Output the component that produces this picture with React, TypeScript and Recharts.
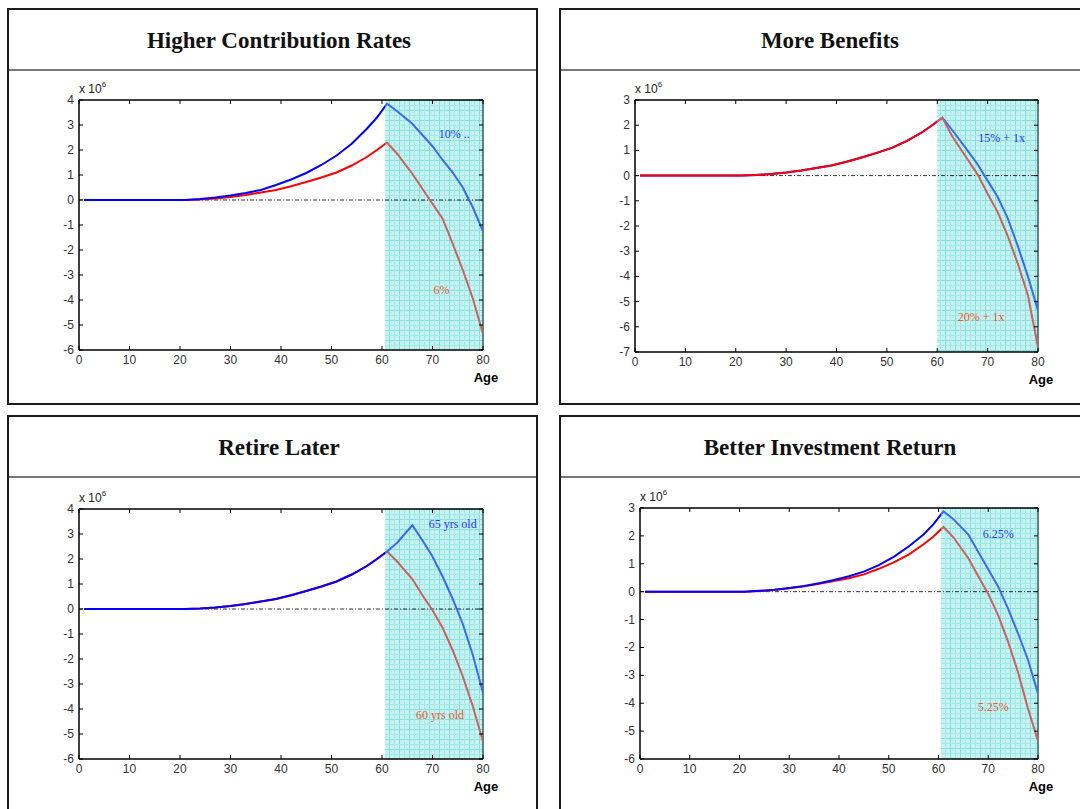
import React from 'react';
import { LineChart, Line, XAxis, YAxis, ReferenceArea, ReferenceLine, ReferenceDot } from 'recharts';

// ages sampled along the curves (years)
const ages = [1, 21, 24, 27, 30, 33, 36, 39, 42, 45, 48, 51, 54, 57, 59, 61, 63, 66, 68, 70, 72, 74, 76, 78, 80];

// fund balance, x 10^6
const contrib6 = [0, 0, 0.02, 0.06, 0.12, 0.2, 0.3, 0.4, 0.55, 0.72, 0.9, 1.1, 1.38, 1.72, 2.0, 2.3, 1.85, 1.05, 0.45, -0.15, -0.75, -1.75, -2.8, -3.95, -5.35];
const contrib10 = [0, 0, 0.04, 0.1, 0.18, 0.28, 0.4, 0.6, 0.82, 1.08, 1.4, 1.78, 2.25, 2.85, 3.3, 3.85, 3.55, 3.05, 2.6, 2.15, 1.6, 1.1, 0.5, -0.3, -1.25];

const benefits15 = [0, 0, 0.02, 0.06, 0.12, 0.2, 0.3, 0.4, 0.55, 0.72, 0.9, 1.1, 1.38, 1.72, 2.0, 2.3, 1.8, 1.0, 0.45, -0.2, -0.85, -1.7, -2.8, -4.0, -5.35];
const benefits20 = [0, 0, 0.02, 0.06, 0.12, 0.2, 0.3, 0.4, 0.55, 0.72, 0.9, 1.1, 1.38, 1.72, 2.0, 2.3, 1.55, 0.65, 0.05, -0.72, -1.45, -2.4, -3.5, -4.75, -6.8];

const retire60 = [0, 0, 0.02, 0.06, 0.12, 0.2, 0.3, 0.4, 0.55, 0.72, 0.9, 1.1, 1.38, 1.72, 2.0, 2.3, 1.9, 1.2, 0.55, -0.05, -0.75, -1.65, -2.7, -3.9, -5.3];
const retire65 = [0, 0, 0.02, 0.06, 0.12, 0.2, 0.3, 0.4, 0.55, 0.72, 0.9, 1.1, 1.38, 1.72, 2.0, 2.3, 2.65, 3.35, 2.75, 2.1, 1.3, 0.4, -0.6, -1.85, -3.35];

const invest525 = [0, 0, 0.02, 0.06, 0.12, 0.19, 0.28, 0.38, 0.48, 0.62, 0.82, 1.05, 1.33, 1.7, 1.98, 2.32, 1.95, 1.2, 0.55, -0.08, -0.85, -1.8, -2.9, -4.2, -5.35];
const invest625 = [0, 0, 0.03, 0.07, 0.13, 0.2, 0.3, 0.42, 0.55, 0.72, 0.95, 1.25, 1.62, 2.05, 2.42, 2.88, 2.6, 2.05, 1.42, 0.8, 0.18, -0.62, -1.5, -2.45, -3.65];

const xTicks = [0, 10, 20, 30, 40, 50, 60, 70, 80];
const yTicks43 = [-6, -5, -4, -3, -2, -1, 0, 1, 2, 3, 4];
const yTicks37 = [-7, -6, -5, -4, -3, -2, -1, 0, 1, 2, 3];
const yTicks63 = [-6, -5, -4, -3, -2, -1, 0, 1, 2, 3];

const RED = '#ff0000';
const RED_FADE = '#c8625e';
const BLUE = '#0000ff';
const BLUE_FADE = '#3a6af2';
const NOTE_BLUE = '#2638ff';
const NOTE_RED = '#f0582a';

const sans = '"Liberation Sans", Arial, sans-serif';
const serif = '"Liberation Serif", "Times New Roman", serif';

type Series = { key: string; values: number[]; color: string; faded: string };
type Note = { x: number; y: number; text: string; color: string };

interface PanelProps {
  id: string;
  title: string;
  box: { left: number; top: number; width: number; height: number };
  titleX: number;
  plot: [number, number, number, number]; // x0, y0, x1, y1 on the page
  yTicks: number[];
  shadeFrom: number;
  series: Series[];
  notes: Note[];
}

const Panel: React.FC<PanelProps> = ({ id, title, box, titleX, plot, yTicks, shadeFrom, series, notes }) => {
  const [x0, y0, x1, y1] = plot;
  const pw = x1 - x0;
  const ph = y1 - y0;
  const padL = 40, padT = 10, padR = 12, padB = 20;
  const left = padL, top = padT, right = padL + pw, bottom = padT + ph;
  const yMin = yTicks[0];
  const yMax = yTicks[yTicks.length - 1];

  const data = ages.map((age, i) => {
    const row: { [k: string]: number } = { age };
    series.forEach(s => { row[s.key] = s.values[i]; });
    return row;
  });

  const XTick = (props: any) => {
    const { x, payload } = props;
    return (
      <g>
        <line x1={x} x2={x} y1={bottom} y2={bottom - 4} stroke="#000" />
        <line x1={x} x2={x} y1={top} y2={top + 4} stroke="#000" />
        <text x={x} y={bottom + 14} textAnchor="middle" fontSize={12} fontFamily={sans} fill="#333">{payload.value}</text>
      </g>
    );
  };

  const YTick = (props: any) => {
    const { y, payload } = props;
    return (
      <g>
        <line x1={left} x2={left + 4} y1={y} y2={y} stroke="#000" />
        <line x1={right} x2={right - 4} y1={y} y2={y} stroke="#000" />
        <text x={left - 5} y={y + 4} textAnchor="end" fontSize={12} fontFamily={sans} fill="#333">{payload.value}</text>
      </g>
    );
  };

  const off = shadeFrom / 80;

  return (
    <>
      <div style={{ position: 'absolute', left: box.left, top: box.top, width: box.width, height: box.height, border: '2px solid #1c1c1c', boxSizing: 'border-box' }} />
      <div style={{ position: 'absolute', left: titleX - 250, top: box.top + 19, width: 500, textAlign: 'center', fontFamily: serif, fontWeight: 'bold', fontSize: 23, lineHeight: '27px', color: '#111' }}>{title}</div>
      <div style={{ position: 'absolute', left: box.left + 2, top: box.top + 61, width: box.width - 4, height: 2, background: '#777' }} />
      <div style={{ position: 'absolute', left: x0, top: y0 - 17, fontFamily: sans, fontSize: 12, lineHeight: '13px', color: '#222', whiteSpace: 'nowrap' }}>
        x 10<span style={{ fontSize: 8, position: 'relative', top: -6 }}>6</span>
      </div>
      <div style={{ position: 'absolute', left: x1 + 3 - 30, top: y1 + 21, width: 60, textAlign: 'center', fontFamily: sans, fontWeight: 'bold', fontSize: 13, lineHeight: '14px', color: '#000' }}>Age</div>
      <div style={{ position: 'absolute', left: x0 - padL, top: y0 - padT }}>
        <LineChart width={pw + padL + padR} height={ph + padT + padB} data={data} margin={{ top: padT, right: padR, left: 0, bottom: 0 }}>
          <defs>
            <pattern id={`grid-${id}`} width="10" height="10" patternUnits="userSpaceOnUse">
              <rect width="10" height="10" fill="#c6f2f1" />
              <rect x="2" y="2" width="1" height="1" fill="#aaeaea" />
              <rect x="7" y="7" width="1" height="1" fill="#aaeaea" />
              <path d="M0 0.5H10M0.5 0V10" stroke="#86dfde" strokeWidth="1" />
              <path d="M0 5.5H10M5.5 0V10" stroke="#a2e8e7" strokeWidth="1" />
            </pattern>
            <linearGradient id={`red-${id}`} gradientUnits="userSpaceOnUse" x1={left} x2={right} y1="0" y2="0">
              <stop offset={off} stopColor={RED} />
              <stop offset={off} stopColor={RED_FADE} />
            </linearGradient>
            <linearGradient id={`blue-${id}`} gradientUnits="userSpaceOnUse" x1={left} x2={right} y1="0" y2="0">
              <stop offset={off} stopColor={BLUE} />
              <stop offset={off} stopColor={BLUE_FADE} />
            </linearGradient>
          </defs>
          <XAxis dataKey="age" type="number" domain={[0, 80]} ticks={xTicks} interval={0} allowDataOverflow
            height={padB} tickLine={false} tick={XTick} axisLine={{ stroke: '#000', strokeWidth: 1.5 }} />
          <YAxis type="number" domain={[yMin, yMax]} ticks={yTicks} interval={0} allowDataOverflow
            width={padL} tickLine={false} tick={YTick} axisLine={{ stroke: '#000', strokeWidth: 1.5 }} />
          <ReferenceArea x1={shadeFrom} x2={80} y1={yMin} y2={yMax} fill={`url(#grid-${id})`} fillOpacity={1} stroke="none" />
          <ReferenceLine y={0} stroke="#000" strokeWidth={0.8} strokeDasharray="4 2 1 2" />
          <ReferenceLine y={yMax} stroke="#000" strokeWidth={1.5} />
          <ReferenceLine x={80} stroke="#2f5f5f" strokeWidth={1.5} />
          {series.map(s => (
            <Line key={s.key} dataKey={s.key} type="linear" stroke={`url(#${s.color === RED ? 'red' : 'blue'}-${id})`}
              strokeWidth={2} dot={false} activeDot={false} isAnimationActive={false} />
          ))}
          {notes.map(n => (
            <ReferenceDot key={n.text} x={n.x} y={n.y} r={0} fill="none" stroke="none"
              label={{ value: n.text, position: 'center', fill: n.color, fontSize: 12, fontFamily: serif }} />
          ))}
        </LineChart>
      </div>
    </>
  );
};

const App: React.FC = () => (
  <div style={{ position: 'absolute', left: 0, top: 0, width: 1080, height: 809, overflow: 'hidden', background: '#fff' }}>
    <Panel id="p1" title="Higher Contribution Rates" box={{ left: 7, top: 8, width: 531, height: 397 }} titleX={279}
      plot={[79, 100, 483, 350]} yTicks={yTicks43} shadeFrom={60.6}
      series={[
        { key: 'c6', values: contrib6, color: RED, faded: RED_FADE },
        { key: 'c10', values: contrib10, color: BLUE, faded: BLUE_FADE },
      ]}
      notes={[
        { x: 74.3, y: 2.67, text: '10% ..', color: NOTE_BLUE },
        { x: 71.8, y: -3.6, text: '6%', color: NOTE_RED },
      ]} />
    <Panel id="p2" title="More Benefits" box={{ left: 559, top: 8, width: 560, height: 397 }} titleX={830}
      plot={[635, 100, 1038, 352]} yTicks={yTicks37} shadeFrom={60}
      series={[
        { key: 'b15', values: benefits15, color: BLUE, faded: BLUE_FADE },
        { key: 'b20', values: benefits20, color: RED, faded: RED_FADE },
      ]}
      notes={[
        { x: 72.8, y: 1.52, text: '15% + 1x', color: NOTE_BLUE },
        { x: 68.7, y: -5.6, text: '20% + 1x', color: NOTE_RED },
      ]} />
    <Panel id="p3" title="Retire Later" box={{ left: 7, top: 415, width: 531, height: 420 }} titleX={279}
      plot={[79, 509, 483, 759]} yTicks={yTicks43} shadeFrom={60.6}
      series={[
        { key: 'r60', values: retire60, color: RED, faded: RED_FADE },
        { key: 'r65', values: retire65, color: BLUE, faded: BLUE_FADE },
      ]}
      notes={[
        { x: 74, y: 3.4, text: '65 yrs old', color: NOTE_BLUE },
        { x: 71.5, y: -4.23, text: '60 yrs old', color: NOTE_RED },
      ]} />
    <Panel id="p4" title="Better Investment Return" box={{ left: 559, top: 415, width: 560, height: 420 }} titleX={830}
      plot={[640, 508, 1038, 759]} yTicks={yTicks63} shadeFrom={60.5}
      series={[
        { key: 'i525', values: invest525, color: RED, faded: RED_FADE },
        { key: 'i625', values: invest625, color: BLUE, faded: BLUE_FADE },
      ]}
      notes={[
        { x: 72, y: 2.08, text: '6.25%', color: NOTE_BLUE },
        { x: 71, y: -4.12, text: '5.25%', color: NOTE_RED },
      ]} />
  </div>
);

export default App;
